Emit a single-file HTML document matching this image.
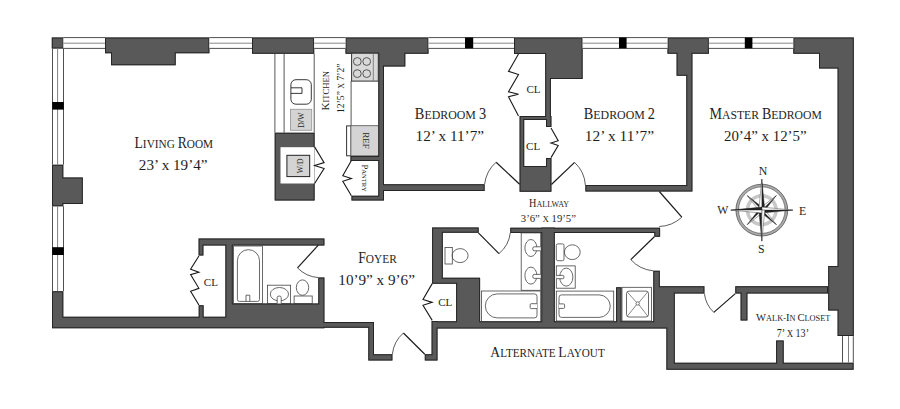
<!DOCTYPE html>
<html><head><meta charset="utf-8"><style>
html,body{margin:0;padding:0;background:#fff;}
body{width:900px;height:409px;overflow:hidden;}
svg{display:block;}
text{font-family:"Liberation Serif",serif;fill:#1e1e1e;}
</style></head><body>
<svg width="900" height="409" viewBox="0 0 900 409">
<rect width="900" height="409" fill="#fff"/>
<clipPath id="wc"><path d="M51.80,37.50 L51.80,48.50 L63.70,48.50 L63.70,37.50ZM252.00,53.70 L314.20,53.70 L314.20,37.50 L252.00,37.50ZM209.40,53.20 L209.40,37.50 L105.00,37.50 L105.00,53.20 L111.00,53.20 L111.00,65.20 L175.70,65.20 L175.70,53.20ZM378.30,156.00 L350.50,156.00 L350.50,160.90 L378.30,160.90 L378.30,195.80 L351.50,195.80 L351.50,200.50 L378.30,200.50 L384.00,200.50 L384.00,195.80 L384.00,191.10 L484.60,191.10 L484.60,184.20 L384.00,184.20 L384.00,66.40 L405.30,66.40 L405.30,53.70 L428.50,53.70 L428.50,37.50 L345.50,37.50 L345.50,53.70 L378.30,53.70 L378.30,66.40ZM274.70,200.50 L314.60,200.50 L314.60,132.70 L274.70,132.70ZM63.30,177.50 L63.30,164.70 L52.00,164.70 L52.00,206.30 L63.30,206.30 L63.30,203.90 L82.80,203.90 L82.80,177.50ZM198.60,255.60 L203.40,255.60 L203.40,245.50 L225.40,245.50 L225.40,303.60 L225.40,316.70 L203.60,316.70 L203.60,305.30 L198.70,305.30 L198.70,316.70 L63.30,316.70 L63.30,291.20 L52.00,291.20 L52.00,316.70 L52.00,328.20 L63.30,328.20 L225.40,328.20 L232.80,328.20 L318.30,328.20 L324.40,328.20 L324.40,327.70 L368.30,327.70 L368.30,354.30 L368.30,360.60 L374.00,360.60 L392.40,360.60 L392.40,354.30 L374.00,354.30 L374.00,327.70 L374.00,321.90 L368.30,321.90 L324.40,321.90 L324.40,303.60 L324.40,277.60 L318.30,277.60 L318.30,303.60 L232.80,303.60 L232.80,245.50 L324.40,245.50 L324.40,238.60 L203.40,238.60 L198.60,238.60 L198.60,245.50ZM514.00,53.90 L545.20,53.90 L545.20,79.10 L545.20,115.90 L519.60,115.90 L519.60,120.10 L519.60,166.00 L519.60,191.70 L551.40,191.70 L551.40,166.00 L551.40,158.00 L546.00,158.00 L546.00,166.00 L524.20,166.00 L524.20,120.10 L546.00,120.10 L546.00,126.90 L551.40,126.90 L551.40,120.10 L551.40,115.90 L550.90,115.90 L550.90,79.10 L582.60,79.10 L582.60,53.90 L582.60,37.50 L514.00,37.50ZM432.10,227.40 L432.10,232.80 L432.10,277.80 L432.10,283.80 L442.80,283.80 L456.10,283.80 L456.10,321.20 L437.50,321.20 L437.50,321.00 L431.60,321.00 L431.60,321.20 L431.60,328.50 L431.60,354.30 L424.80,354.30 L424.80,360.60 L431.60,360.60 L437.50,360.60 L437.50,354.30 L437.50,328.50 L456.10,328.50 L480.10,328.50 L541.30,328.50 L554.80,328.50 L653.30,328.50 L659.80,328.50 L666.40,328.50 L666.40,362.70 L666.40,369.70 L674.80,369.70 L853.60,369.70 L853.60,362.70 L783.70,362.70 L783.70,340.60 L776.10,340.60 L776.10,362.70 L674.80,362.70 L674.80,328.50 L674.80,321.20 L674.80,293.60 L704.40,293.60 L704.40,286.30 L674.80,286.30 L666.40,286.30 L659.80,286.30 L659.80,270.80 L653.30,270.80 L653.30,286.30 L653.30,293.60 L653.30,321.20 L621.50,321.20 L621.50,287.20 L616.10,287.20 L616.10,321.20 L554.80,321.20 L554.80,233.00 L654.30,233.00 L654.30,236.70 L660.10,236.70 L660.10,233.00 L660.10,227.90 L660.10,227.70 L554.80,227.70 L554.80,227.50 L541.30,227.50 L541.30,227.70 L510.30,227.70 L510.30,233.00 L541.30,233.00 L541.30,321.20 L480.10,321.20 L480.10,283.80 L480.10,277.80 L456.10,277.80 L442.80,277.80 L442.80,232.80 L478.70,232.80 L478.70,227.40 L442.80,227.40ZM837.60,266.00 L828.20,266.00 L828.20,310.50 L837.60,310.50 L837.60,336.10 L853.80,336.10 L853.80,310.50 L853.80,266.00 L853.80,68.60 L853.80,53.70 L853.80,37.50 L793.30,37.50 L793.30,53.70 L819.00,53.70 L819.00,68.60 L837.60,68.60ZM686.30,184.90 L585.40,184.90 L585.40,191.60 L686.30,191.60 L692.40,191.60 L692.40,184.90 L692.40,75.80 L692.40,53.70 L708.90,53.70 L708.90,37.50 L667.50,37.50 L667.50,53.70 L676.60,53.70 L676.60,75.80 L686.30,75.80ZM747.40,293.60 L828.00,293.60 L828.00,286.30 L735.30,286.30 L735.30,293.60 L740.60,293.60 L740.60,320.50 L747.40,320.50Z" fill-rule="evenodd"/></clipPath>
<path d="M51.80,37.50 L51.80,48.50 L63.70,48.50 L63.70,37.50ZM252.00,53.70 L314.20,53.70 L314.20,37.50 L252.00,37.50ZM209.40,53.20 L209.40,37.50 L105.00,37.50 L105.00,53.20 L111.00,53.20 L111.00,65.20 L175.70,65.20 L175.70,53.20ZM378.30,156.00 L350.50,156.00 L350.50,160.90 L378.30,160.90 L378.30,195.80 L351.50,195.80 L351.50,200.50 L378.30,200.50 L384.00,200.50 L384.00,195.80 L384.00,191.10 L484.60,191.10 L484.60,184.20 L384.00,184.20 L384.00,66.40 L405.30,66.40 L405.30,53.70 L428.50,53.70 L428.50,37.50 L345.50,37.50 L345.50,53.70 L378.30,53.70 L378.30,66.40ZM274.70,200.50 L314.60,200.50 L314.60,132.70 L274.70,132.70ZM63.30,177.50 L63.30,164.70 L52.00,164.70 L52.00,206.30 L63.30,206.30 L63.30,203.90 L82.80,203.90 L82.80,177.50ZM198.60,255.60 L203.40,255.60 L203.40,245.50 L225.40,245.50 L225.40,303.60 L225.40,316.70 L203.60,316.70 L203.60,305.30 L198.70,305.30 L198.70,316.70 L63.30,316.70 L63.30,291.20 L52.00,291.20 L52.00,316.70 L52.00,328.20 L63.30,328.20 L225.40,328.20 L232.80,328.20 L318.30,328.20 L324.40,328.20 L324.40,327.70 L368.30,327.70 L368.30,354.30 L368.30,360.60 L374.00,360.60 L392.40,360.60 L392.40,354.30 L374.00,354.30 L374.00,327.70 L374.00,321.90 L368.30,321.90 L324.40,321.90 L324.40,303.60 L324.40,277.60 L318.30,277.60 L318.30,303.60 L232.80,303.60 L232.80,245.50 L324.40,245.50 L324.40,238.60 L203.40,238.60 L198.60,238.60 L198.60,245.50ZM514.00,53.90 L545.20,53.90 L545.20,79.10 L545.20,115.90 L519.60,115.90 L519.60,120.10 L519.60,166.00 L519.60,191.70 L551.40,191.70 L551.40,166.00 L551.40,158.00 L546.00,158.00 L546.00,166.00 L524.20,166.00 L524.20,120.10 L546.00,120.10 L546.00,126.90 L551.40,126.90 L551.40,120.10 L551.40,115.90 L550.90,115.90 L550.90,79.10 L582.60,79.10 L582.60,53.90 L582.60,37.50 L514.00,37.50ZM432.10,227.40 L432.10,232.80 L432.10,277.80 L432.10,283.80 L442.80,283.80 L456.10,283.80 L456.10,321.20 L437.50,321.20 L437.50,321.00 L431.60,321.00 L431.60,321.20 L431.60,328.50 L431.60,354.30 L424.80,354.30 L424.80,360.60 L431.60,360.60 L437.50,360.60 L437.50,354.30 L437.50,328.50 L456.10,328.50 L480.10,328.50 L541.30,328.50 L554.80,328.50 L653.30,328.50 L659.80,328.50 L666.40,328.50 L666.40,362.70 L666.40,369.70 L674.80,369.70 L853.60,369.70 L853.60,362.70 L783.70,362.70 L783.70,340.60 L776.10,340.60 L776.10,362.70 L674.80,362.70 L674.80,328.50 L674.80,321.20 L674.80,293.60 L704.40,293.60 L704.40,286.30 L674.80,286.30 L666.40,286.30 L659.80,286.30 L659.80,270.80 L653.30,270.80 L653.30,286.30 L653.30,293.60 L653.30,321.20 L621.50,321.20 L621.50,287.20 L616.10,287.20 L616.10,321.20 L554.80,321.20 L554.80,233.00 L654.30,233.00 L654.30,236.70 L660.10,236.70 L660.10,233.00 L660.10,227.90 L660.10,227.70 L554.80,227.70 L554.80,227.50 L541.30,227.50 L541.30,227.70 L510.30,227.70 L510.30,233.00 L541.30,233.00 L541.30,321.20 L480.10,321.20 L480.10,283.80 L480.10,277.80 L456.10,277.80 L442.80,277.80 L442.80,232.80 L478.70,232.80 L478.70,227.40 L442.80,227.40ZM837.60,266.00 L828.20,266.00 L828.20,310.50 L837.60,310.50 L837.60,336.10 L853.80,336.10 L853.80,310.50 L853.80,266.00 L853.80,68.60 L853.80,53.70 L853.80,37.50 L793.30,37.50 L793.30,53.70 L819.00,53.70 L819.00,68.60 L837.60,68.60ZM686.30,184.90 L585.40,184.90 L585.40,191.60 L686.30,191.60 L692.40,191.60 L692.40,184.90 L692.40,75.80 L692.40,53.70 L708.90,53.70 L708.90,37.50 L667.50,37.50 L667.50,53.70 L676.60,53.70 L676.60,75.80 L686.30,75.80ZM747.40,293.60 L828.00,293.60 L828.00,286.30 L735.30,286.30 L735.30,293.60 L740.60,293.60 L740.60,320.50 L747.40,320.50Z" fill="#595959" fill-rule="evenodd"/>
<path d="M51.80,37.50 L51.80,48.50 L63.70,48.50 L63.70,37.50ZM252.00,53.70 L314.20,53.70 L314.20,37.50 L252.00,37.50ZM209.40,53.20 L209.40,37.50 L105.00,37.50 L105.00,53.20 L111.00,53.20 L111.00,65.20 L175.70,65.20 L175.70,53.20ZM378.30,156.00 L350.50,156.00 L350.50,160.90 L378.30,160.90 L378.30,195.80 L351.50,195.80 L351.50,200.50 L378.30,200.50 L384.00,200.50 L384.00,195.80 L384.00,191.10 L484.60,191.10 L484.60,184.20 L384.00,184.20 L384.00,66.40 L405.30,66.40 L405.30,53.70 L428.50,53.70 L428.50,37.50 L345.50,37.50 L345.50,53.70 L378.30,53.70 L378.30,66.40ZM274.70,200.50 L314.60,200.50 L314.60,132.70 L274.70,132.70ZM63.30,177.50 L63.30,164.70 L52.00,164.70 L52.00,206.30 L63.30,206.30 L63.30,203.90 L82.80,203.90 L82.80,177.50ZM198.60,255.60 L203.40,255.60 L203.40,245.50 L225.40,245.50 L225.40,303.60 L225.40,316.70 L203.60,316.70 L203.60,305.30 L198.70,305.30 L198.70,316.70 L63.30,316.70 L63.30,291.20 L52.00,291.20 L52.00,316.70 L52.00,328.20 L63.30,328.20 L225.40,328.20 L232.80,328.20 L318.30,328.20 L324.40,328.20 L324.40,327.70 L368.30,327.70 L368.30,354.30 L368.30,360.60 L374.00,360.60 L392.40,360.60 L392.40,354.30 L374.00,354.30 L374.00,327.70 L374.00,321.90 L368.30,321.90 L324.40,321.90 L324.40,303.60 L324.40,277.60 L318.30,277.60 L318.30,303.60 L232.80,303.60 L232.80,245.50 L324.40,245.50 L324.40,238.60 L203.40,238.60 L198.60,238.60 L198.60,245.50ZM514.00,53.90 L545.20,53.90 L545.20,79.10 L545.20,115.90 L519.60,115.90 L519.60,120.10 L519.60,166.00 L519.60,191.70 L551.40,191.70 L551.40,166.00 L551.40,158.00 L546.00,158.00 L546.00,166.00 L524.20,166.00 L524.20,120.10 L546.00,120.10 L546.00,126.90 L551.40,126.90 L551.40,120.10 L551.40,115.90 L550.90,115.90 L550.90,79.10 L582.60,79.10 L582.60,53.90 L582.60,37.50 L514.00,37.50ZM432.10,227.40 L432.10,232.80 L432.10,277.80 L432.10,283.80 L442.80,283.80 L456.10,283.80 L456.10,321.20 L437.50,321.20 L437.50,321.00 L431.60,321.00 L431.60,321.20 L431.60,328.50 L431.60,354.30 L424.80,354.30 L424.80,360.60 L431.60,360.60 L437.50,360.60 L437.50,354.30 L437.50,328.50 L456.10,328.50 L480.10,328.50 L541.30,328.50 L554.80,328.50 L653.30,328.50 L659.80,328.50 L666.40,328.50 L666.40,362.70 L666.40,369.70 L674.80,369.70 L853.60,369.70 L853.60,362.70 L783.70,362.70 L783.70,340.60 L776.10,340.60 L776.10,362.70 L674.80,362.70 L674.80,328.50 L674.80,321.20 L674.80,293.60 L704.40,293.60 L704.40,286.30 L674.80,286.30 L666.40,286.30 L659.80,286.30 L659.80,270.80 L653.30,270.80 L653.30,286.30 L653.30,293.60 L653.30,321.20 L621.50,321.20 L621.50,287.20 L616.10,287.20 L616.10,321.20 L554.80,321.20 L554.80,233.00 L654.30,233.00 L654.30,236.70 L660.10,236.70 L660.10,233.00 L660.10,227.90 L660.10,227.70 L554.80,227.70 L554.80,227.50 L541.30,227.50 L541.30,227.70 L510.30,227.70 L510.30,233.00 L541.30,233.00 L541.30,321.20 L480.10,321.20 L480.10,283.80 L480.10,277.80 L456.10,277.80 L442.80,277.80 L442.80,232.80 L478.70,232.80 L478.70,227.40 L442.80,227.40ZM837.60,266.00 L828.20,266.00 L828.20,310.50 L837.60,310.50 L837.60,336.10 L853.80,336.10 L853.80,310.50 L853.80,266.00 L853.80,68.60 L853.80,53.70 L853.80,37.50 L793.30,37.50 L793.30,53.70 L819.00,53.70 L819.00,68.60 L837.60,68.60ZM686.30,184.90 L585.40,184.90 L585.40,191.60 L686.30,191.60 L692.40,191.60 L692.40,184.90 L692.40,75.80 L692.40,53.70 L708.90,53.70 L708.90,37.50 L667.50,37.50 L667.50,53.70 L676.60,53.70 L676.60,75.80 L686.30,75.80ZM747.40,293.60 L828.00,293.60 L828.00,286.30 L735.30,286.30 L735.30,293.60 L740.60,293.60 L740.60,320.50 L747.40,320.50Z" fill="none" stroke="#262626" stroke-width="2.0" clip-path="url(#wc)"/>
<rect x="63.30" y="37.50" width="41.70" height="10.80" fill="#ffffff"/>
<line x1="63.30" y1="37.60" x2="105.00" y2="37.60" stroke="#505050" stroke-width="1.0"/>
<line x1="63.30" y1="43.20" x2="105.00" y2="43.20" stroke="#7a7a7a" stroke-width="0.9"/>
<line x1="63.30" y1="48.40" x2="105.00" y2="48.40" stroke="#505050" stroke-width="1.0"/>
<rect x="209.40" y="37.50" width="42.60" height="10.80" fill="#ffffff"/>
<line x1="209.40" y1="37.60" x2="252.00" y2="37.60" stroke="#505050" stroke-width="1.0"/>
<line x1="209.40" y1="43.20" x2="252.00" y2="43.20" stroke="#7a7a7a" stroke-width="0.9"/>
<line x1="209.40" y1="48.40" x2="252.00" y2="48.40" stroke="#505050" stroke-width="1.0"/>
<rect x="314.20" y="37.50" width="31.30" height="10.80" fill="#ffffff"/>
<line x1="314.20" y1="37.60" x2="345.50" y2="37.60" stroke="#505050" stroke-width="1.0"/>
<line x1="314.20" y1="43.20" x2="345.50" y2="43.20" stroke="#7a7a7a" stroke-width="0.9"/>
<line x1="314.20" y1="48.40" x2="345.50" y2="48.40" stroke="#505050" stroke-width="1.0"/>
<rect x="428.50" y="37.50" width="85.50" height="10.80" fill="#ffffff"/>
<line x1="428.50" y1="37.60" x2="514.00" y2="37.60" stroke="#505050" stroke-width="1.0"/>
<line x1="428.50" y1="43.20" x2="514.00" y2="43.20" stroke="#7a7a7a" stroke-width="0.9"/>
<line x1="428.50" y1="48.40" x2="514.00" y2="48.40" stroke="#505050" stroke-width="1.0"/>
<rect x="465.00" y="37.50" width="8.20" height="10.80" fill="#000"/>
<rect x="582.60" y="37.50" width="84.90" height="10.80" fill="#ffffff"/>
<line x1="582.60" y1="37.60" x2="667.50" y2="37.60" stroke="#505050" stroke-width="1.0"/>
<line x1="582.60" y1="43.20" x2="667.50" y2="43.20" stroke="#7a7a7a" stroke-width="0.9"/>
<line x1="582.60" y1="48.40" x2="667.50" y2="48.40" stroke="#505050" stroke-width="1.0"/>
<rect x="619.00" y="37.50" width="7.60" height="10.80" fill="#000"/>
<rect x="708.90" y="37.50" width="84.40" height="10.80" fill="#ffffff"/>
<line x1="708.90" y1="37.60" x2="793.30" y2="37.60" stroke="#505050" stroke-width="1.0"/>
<line x1="708.90" y1="43.20" x2="793.30" y2="43.20" stroke="#7a7a7a" stroke-width="0.9"/>
<line x1="708.90" y1="48.40" x2="793.30" y2="48.40" stroke="#505050" stroke-width="1.0"/>
<rect x="744.80" y="37.50" width="7.60" height="10.80" fill="#000"/>
<line x1="52.50" y1="48.30" x2="52.50" y2="164.70" stroke="#505050" stroke-width="1.0"/>
<line x1="57.60" y1="48.30" x2="57.60" y2="164.70" stroke="#808080" stroke-width="1.0"/>
<line x1="63.50" y1="48.30" x2="63.50" y2="164.70" stroke="#505050" stroke-width="1.0"/>
<rect x="52.20" y="102.00" width="11.60" height="7.60" fill="#000"/>
<line x1="52.50" y1="206.30" x2="52.50" y2="291.20" stroke="#505050" stroke-width="1.0"/>
<line x1="57.60" y1="206.30" x2="57.60" y2="291.20" stroke="#808080" stroke-width="1.0"/>
<line x1="63.50" y1="206.30" x2="63.50" y2="291.20" stroke="#505050" stroke-width="1.0"/>
<rect x="52.20" y="247.20" width="11.60" height="7.80" fill="#000"/>
<line x1="842.50" y1="336.10" x2="842.50" y2="362.70" stroke="#505050" stroke-width="1.0"/>
<line x1="848.50" y1="336.10" x2="848.50" y2="362.70" stroke="#808080" stroke-width="1.0"/>
<line x1="853.30" y1="336.10" x2="853.30" y2="362.70" stroke="#505050" stroke-width="1.0"/>
<line x1="274.90" y1="53.70" x2="274.90" y2="132.70" stroke="#444" stroke-width="0.9"/>
<line x1="284.10" y1="53.70" x2="284.10" y2="132.70" stroke="#444" stroke-width="0.9"/>
<line x1="314.20" y1="53.70" x2="314.20" y2="132.70" stroke="#444" stroke-width="0.9"/>
<rect x="290.9" y="79.7" width="20.4" height="24.5" rx="5" fill="none" stroke="#222" stroke-width="0.9"/>
<path d="M290.9,87.8 H302 V93.4 H290.9" fill="none" stroke="#222" stroke-width="0.9"/>
<rect x="290.50" y="109.30" width="21.20" height="21.00" fill="#d4d4d4" stroke="#9a9a9a" stroke-width="0.9"/>
<rect x="280.50" y="147.20" width="34.10" height="36.30" fill="#fff"/>
<rect x="286.90" y="155.30" width="22.80" height="21.30" fill="#d4d4d4" stroke="#222" stroke-width="1"/>
<rect x="351.60" y="53.20" width="26.70" height="27.90" fill="#d9d9d9" stroke="#333" stroke-width="1"/>
<line x1="373.30" y1="53.70" x2="373.30" y2="80.90" stroke="#777" stroke-width="0.9"/>
<circle cx="357.3" cy="61.5" r="3.9" fill="none" stroke="#555" stroke-width="1"/>
<circle cx="357.3" cy="73.6" r="3.9" fill="none" stroke="#555" stroke-width="1"/>
<circle cx="366.7" cy="61.5" r="3.9" fill="none" stroke="#555" stroke-width="1"/>
<circle cx="366.7" cy="73.6" r="3.9" fill="none" stroke="#555" stroke-width="1"/>
<line x1="351.10" y1="80.90" x2="351.10" y2="125.70" stroke="#444" stroke-width="0.9"/>
<rect x="346.60" y="125.90" width="31.70" height="29.90" fill="#fff" stroke="#333" stroke-width="1"/>
<rect x="350.80" y="126.40" width="27.00" height="28.90" fill="#d4d4d4"/>
<line x1="350.80" y1="125.90" x2="350.80" y2="155.80" stroke="#444" stroke-width="0.9"/>
<rect x="233.60" y="246.00" width="28.80" height="57.60" fill="none" stroke="#444" stroke-width="0.8"/>
<path d="M237.4,299.4 V260.7 A11.05,11.05 0 0 1 259.5,260.7 V299.4 Q259.5,301.4 257.5,301.4 H239.4 Q237.4,301.4 237.4,299.4 Z" fill="none" stroke="#444" stroke-width="0.8"/>
<path d="M246,301.4 V295.2 H249.8 V301.4" fill="none" stroke="#444" stroke-width="0.8"/>
<rect x="267.50" y="285.20" width="23.10" height="18.40" fill="none" stroke="#444" stroke-width="0.8"/>
<ellipse cx="279.4" cy="294.2" rx="9.1" ry="6.7" fill="none" stroke="#444" stroke-width="0.8"/>
<path d="M277.2,303.6 V297.5 Q277.2,296 279.2,296 Q281.2,296 281.2,297.5 V303.6" fill="#fff" stroke="#444" stroke-width="0.8"/>
<rect x="294.10" y="296.00" width="18.10" height="7.60" fill="none" stroke="#444" stroke-width="0.8"/>
<ellipse cx="302.5" cy="287.6" rx="6.2" ry="7.7" fill="#fff" stroke="#444" stroke-width="0.8"/>
<rect x="445.00" y="247.40" width="7.30" height="16.60" fill="#fff" stroke="#444" stroke-width="0.8"/>
<ellipse cx="460.1" cy="255.6" rx="8" ry="7" fill="none" stroke="#444" stroke-width="0.8"/>
<rect x="521.20" y="232.90" width="19.50" height="57.40" fill="none" stroke="#444" stroke-width="0.8"/>
<ellipse cx="530.9" cy="248" rx="6" ry="8.5" fill="none" stroke="#444" stroke-width="0.8"/>
<path d="M540.7,246.8 H534.2 Q532.7,246.8 532.7,248.8 Q532.7,250.8 534.2,250.8 H540.7" fill="#fff" stroke="#444" stroke-width="0.8"/>
<ellipse cx="530.9" cy="275.6" rx="6" ry="8.5" fill="none" stroke="#444" stroke-width="0.8"/>
<path d="M540.7,274.40000000000003 H534.2 Q532.7,274.40000000000003 532.7,276.40000000000003 Q532.7,278.40000000000003 534.2,278.40000000000003 H540.7" fill="#fff" stroke="#444" stroke-width="0.8"/>
<rect x="481.40" y="291.00" width="59.30" height="31.00" fill="none" stroke="#444" stroke-width="0.8"/>
<path d="M534.5,293.9 H497.3 A12,12 0 0 0 497.3,317.9 H534.5 Q537,317.9 537,315.4 V296.4 Q537,293.9 534.5,293.9 Z" fill="none" stroke="#444" stroke-width="0.8"/>
<path d="M537,303.7 H531.2 Q530.2,303.7 530.2,304.7 V307.6 Q530.2,308.6 531.2,308.6 H537" fill="#fff" stroke="#444" stroke-width="0.8"/>
<rect x="556.3" y="243.9" width="7.7" height="16.8" rx="1.5" fill="#fff" stroke="#444" stroke-width="0.8"/>
<ellipse cx="572.3" cy="252.2" rx="7.9" ry="7.4" fill="none" stroke="#444" stroke-width="0.8"/>
<rect x="556.30" y="265.90" width="18.90" height="22.30" fill="none" stroke="#444" stroke-width="0.8"/>
<ellipse cx="566.3" cy="277.1" rx="6.6" ry="9" fill="none" stroke="#444" stroke-width="0.8"/>
<path d="M556.3,275.4 H562.8 Q564,275.4 564,277 Q564,278.7 562.8,278.7 H556.3" fill="#fff" stroke="#444" stroke-width="0.8"/>
<rect x="556.30" y="291.10" width="57.40" height="29.90" fill="none" stroke="#444" stroke-width="0.8"/>
<path d="M561.5,294.9 H599 A11.25,11.25 0 0 1 599,317.4 H561.5 Q559,317.4 559,314.9 V297.4 Q559,294.9 561.5,294.9 Z" fill="none" stroke="#444" stroke-width="0.8"/>
<path d="M559,303.9 H563.6 Q564.6,303.9 564.6,304.9 V307.4 Q564.6,308.4 563.6,308.4 H559" fill="#fff" stroke="#444" stroke-width="0.8"/>
<rect x="622.00" y="287.30" width="29.60" height="33.70" fill="none" stroke="#444" stroke-width="0.8"/>
<rect x="626.5" y="291.1" width="22" height="25.9" rx="2.5" fill="none" stroke="#444" stroke-width="0.8"/>
<line x1="627.40" y1="292.10" x2="636.40" y2="302.30" stroke="#555" stroke-width="0.7"/>
<line x1="647.60" y1="292.10" x2="639.00" y2="302.30" stroke="#555" stroke-width="0.7"/>
<line x1="627.40" y1="316.00" x2="636.40" y2="304.80" stroke="#555" stroke-width="0.7"/>
<line x1="647.60" y1="316.00" x2="639.00" y2="304.80" stroke="#555" stroke-width="0.7"/>
<circle cx="637.7" cy="303.5" r="1.7" fill="none" stroke="#444" stroke-width="0.7"/>
<line x1="519.60" y1="184.20" x2="496.10" y2="162.20" stroke="#1a1a1a" stroke-width="1.2"/>
<path d="M496.10,162.20 A35.00,35.00 0 0 0 484.60,184.20" fill="none" stroke="#333" stroke-width="0.8"/>
<line x1="551.40" y1="184.50" x2="574.60" y2="162.40" stroke="#1a1a1a" stroke-width="1.2"/>
<path d="M574.60,162.40 A34.01,34.01 0 0 1 585.40,185.30" fill="none" stroke="#333" stroke-width="0.8"/>
<line x1="659.30" y1="191.50" x2="681.80" y2="217.20" stroke="#1a1a1a" stroke-width="1.2"/>
<path d="M681.80,217.20 A35.00,35.00 0 0 1 659.30,226.50" fill="none" stroke="#333" stroke-width="0.8"/>
<line x1="654.30" y1="236.70" x2="630.80" y2="259.60" stroke="#1a1a1a" stroke-width="1.2"/>
<path d="M630.80,259.60 A34.11,34.11 0 0 0 653.30,270.80" fill="none" stroke="#333" stroke-width="0.8"/>
<line x1="478.40" y1="232.80" x2="499.00" y2="253.60" stroke="#1a1a1a" stroke-width="1.2"/>
<path d="M499.00,253.60 A31.90,31.90 0 0 0 510.30,232.80" fill="none" stroke="#333" stroke-width="0.8"/>
<line x1="735.30" y1="293.60" x2="713.80" y2="312.40" stroke="#1a1a1a" stroke-width="1.2"/>
<path d="M713.80,312.40 A30.90,30.90 0 0 1 704.40,293.60" fill="none" stroke="#333" stroke-width="0.8"/>
<line x1="424.80" y1="354.30" x2="403.40" y2="333.00" stroke="#1a1a1a" stroke-width="1.2"/>
<path d="M403.40,333.00 A32.40,32.40 0 0 0 392.40,354.30" fill="none" stroke="#333" stroke-width="0.8"/>
<line x1="318.30" y1="245.10" x2="297.50" y2="267.90" stroke="#1a1a1a" stroke-width="1.2"/>
<path d="M297.50,267.90 A32.50,32.50 0 0 0 318.30,277.60" fill="none" stroke="#333" stroke-width="0.8"/>
<polyline points="198.90,256.00 190.60,269.23 198.90,272.17 190.60,274.62 198.90,288.34 190.60,291.28 198.90,305.00" fill="none" stroke="#1a1a1a" stroke-width="1.1" stroke-linejoin="miter"/>
<polyline points="518.50,54.00 508.50,71.36 518.50,74.46 508.50,91.82 518.50,94.30 508.50,96.78 518.50,116.00" fill="none" stroke="#1a1a1a" stroke-width="1.1" stroke-linejoin="miter"/>
<polyline points="551.00,128.00 558.20,140.73 551.00,143.10 558.20,145.46 551.00,157.60" fill="none" stroke="#1a1a1a" stroke-width="1.1" stroke-linejoin="miter"/>
<polyline points="314.60,146.90 324.10,162.64 314.60,165.57 324.10,168.49 314.60,183.50" fill="none" stroke="#1a1a1a" stroke-width="1.1" stroke-linejoin="miter"/>
<polyline points="351.40,160.60 342.80,175.69 351.40,178.50 342.80,181.31 351.40,195.70" fill="none" stroke="#1a1a1a" stroke-width="1.1" stroke-linejoin="miter"/>
<polyline points="432.20,283.60 423.00,299.42 432.20,302.37 423.00,305.31 432.20,320.40" fill="none" stroke="#1a1a1a" stroke-width="1.1" stroke-linejoin="miter"/>
<circle cx="761.8" cy="210.1" r="24.6" fill="none" stroke="#ababab" stroke-width="2.6"/><circle cx="761.8" cy="210.1" r="25.9" fill="none" stroke="#444" stroke-width="0.7"/><circle cx="761.8" cy="210.1" r="23.3" fill="none" stroke="#555" stroke-width="0.7"/><circle cx="761.8" cy="210.1" r="14.3" fill="none" stroke="#c8c8c8" stroke-width="3.6"/><polygon points="761.80,210.10 776.30,195.60 763.64,211.94" fill="#222" stroke="#222" stroke-width="0.4"/><polygon points="761.80,210.10 776.30,195.60 759.96,208.26" fill="#fff" stroke="#222" stroke-width="0.4"/><polygon points="761.80,210.10 776.30,224.60 759.96,211.94" fill="#222" stroke="#222" stroke-width="0.4"/><polygon points="761.80,210.10 776.30,224.60 763.64,208.26" fill="#fff" stroke="#222" stroke-width="0.4"/><polygon points="761.80,210.10 747.30,224.60 759.96,208.26" fill="#222" stroke="#222" stroke-width="0.4"/><polygon points="761.80,210.10 747.30,224.60 763.64,211.94" fill="#fff" stroke="#222" stroke-width="0.4"/><polygon points="761.80,210.10 747.30,195.60 763.64,208.26" fill="#222" stroke="#222" stroke-width="0.4"/><polygon points="761.80,210.10 747.30,195.60 759.96,211.94" fill="#fff" stroke="#222" stroke-width="0.4"/><polygon points="761.80,210.10 761.80,179.10 764.80,210.10" fill="#222" stroke="#222" stroke-width="0.4"/><polygon points="761.80,210.10 761.80,179.10 758.80,210.10" fill="#fff" stroke="#222" stroke-width="0.4"/><polygon points="761.80,210.10 792.80,210.10 761.80,213.10" fill="#222" stroke="#222" stroke-width="0.4"/><polygon points="761.80,210.10 792.80,210.10 761.80,207.10" fill="#fff" stroke="#222" stroke-width="0.4"/><polygon points="761.80,210.10 761.80,241.10 758.80,210.10" fill="#222" stroke="#222" stroke-width="0.4"/><polygon points="761.80,210.10 761.80,241.10 764.80,210.10" fill="#fff" stroke="#222" stroke-width="0.4"/><polygon points="761.80,210.10 730.80,210.10 761.80,207.10" fill="#222" stroke="#222" stroke-width="0.4"/><polygon points="761.80,210.10 730.80,210.10 761.80,213.10" fill="#fff" stroke="#222" stroke-width="0.4"/>
<text x="173.81" y="147.6" text-anchor="middle" textLength="78.50" lengthAdjust="spacingAndGlyphs"><tspan font-size="16.00">L</tspan><tspan font-size="13.28">I</tspan><tspan font-size="13.28">V</tspan><tspan font-size="13.28">I</tspan><tspan font-size="13.28">N</tspan><tspan font-size="13.28">G</tspan><tspan font-size="13.28"> </tspan><tspan font-size="16.00">R</tspan><tspan font-size="13.28">O</tspan><tspan font-size="13.28">O</tspan><tspan font-size="13.28">M</tspan></text>
<text x="173.16" y="170.1" text-anchor="middle" font-size="15" textLength="68.68" lengthAdjust="spacingAndGlyphs">23’ x 19’4”</text>
<text x="450.44" y="118.8" text-anchor="middle" textLength="71.24" lengthAdjust="spacingAndGlyphs"><tspan font-size="16.00">B</tspan><tspan font-size="13.28">E</tspan><tspan font-size="13.28">D</tspan><tspan font-size="13.28">R</tspan><tspan font-size="13.28">O</tspan><tspan font-size="13.28">O</tspan><tspan font-size="13.28">M</tspan><tspan font-size="13.28"> </tspan><tspan font-size="16.00">3</tspan></text>
<text x="449.79" y="140.9" text-anchor="middle" font-size="15" textLength="68.54" lengthAdjust="spacingAndGlyphs">12’ x 11’7”</text>
<text x="619.35" y="118.6" text-anchor="middle" textLength="71.18" lengthAdjust="spacingAndGlyphs"><tspan font-size="16.00">B</tspan><tspan font-size="13.28">E</tspan><tspan font-size="13.28">D</tspan><tspan font-size="13.28">R</tspan><tspan font-size="13.28">O</tspan><tspan font-size="13.28">O</tspan><tspan font-size="13.28">M</tspan><tspan font-size="13.28"> </tspan><tspan font-size="16.00">2</tspan></text>
<text x="619.45" y="140.8" text-anchor="middle" font-size="15" textLength="69.22" lengthAdjust="spacingAndGlyphs">12’ x 11’7”</text>
<text x="765.65" y="118.6" text-anchor="middle" textLength="112.30" lengthAdjust="spacingAndGlyphs"><tspan font-size="16.00">M</tspan><tspan font-size="13.28">A</tspan><tspan font-size="13.28">S</tspan><tspan font-size="13.28">T</tspan><tspan font-size="13.28">E</tspan><tspan font-size="13.28">R</tspan><tspan font-size="13.28"> </tspan><tspan font-size="16.00">B</tspan><tspan font-size="13.28">E</tspan><tspan font-size="13.28">D</tspan><tspan font-size="13.28">R</tspan><tspan font-size="13.28">O</tspan><tspan font-size="13.28">O</tspan><tspan font-size="13.28">M</tspan></text>
<text x="765.28" y="140.8" text-anchor="middle" font-size="15" textLength="82.68" lengthAdjust="spacingAndGlyphs">20’4” x 12’5”</text>
<text x="549.06" y="206.7" text-anchor="middle" textLength="40.12" lengthAdjust="spacingAndGlyphs"><tspan font-size="11.70">H</tspan><tspan font-size="9.24">A</tspan><tspan font-size="9.24">L</tspan><tspan font-size="9.24">L</tspan><tspan font-size="9.24">W</tspan><tspan font-size="9.24">A</tspan><tspan font-size="9.24">Y</tspan></text>
<text x="548.38" y="221.5" text-anchor="middle" font-size="10.8" textLength="55.12" lengthAdjust="spacingAndGlyphs">3’6” <tspan font-size="9">X</tspan> 19’5”</text>
<text x="377.50" y="262.75" text-anchor="middle" textLength="38.50" lengthAdjust="spacingAndGlyphs"><tspan font-size="16.00">F</tspan><tspan font-size="13.28">O</tspan><tspan font-size="13.28">Y</tspan><tspan font-size="13.28">E</tspan><tspan font-size="13.28">R</tspan></text>
<text x="376.64" y="285.1" text-anchor="middle" font-size="15" textLength="76.60" lengthAdjust="spacingAndGlyphs">10’9” x 9’6”</text>
<text x="547.54" y="356.7" text-anchor="middle" textLength="114.44" lengthAdjust="spacingAndGlyphs"><tspan font-size="15.00">A</tspan><tspan font-size="12.30">L</tspan><tspan font-size="12.30">T</tspan><tspan font-size="12.30">E</tspan><tspan font-size="12.30">R</tspan><tspan font-size="12.30">N</tspan><tspan font-size="12.30">A</tspan><tspan font-size="12.30">T</tspan><tspan font-size="12.30">E</tspan><tspan font-size="12.30"> </tspan><tspan font-size="15.00">L</tspan><tspan font-size="12.30">A</tspan><tspan font-size="12.30">Y</tspan><tspan font-size="12.30">O</tspan><tspan font-size="12.30">U</tspan><tspan font-size="12.30">T</tspan></text>
<text x="793.24" y="320.9" text-anchor="middle" textLength="74.24" lengthAdjust="spacingAndGlyphs"><tspan font-size="11.30">W</tspan><tspan font-size="8.93">A</tspan><tspan font-size="8.93">L</tspan><tspan font-size="8.93">K</tspan><tspan font-size="8.93">-</tspan><tspan font-size="11.30">I</tspan><tspan font-size="8.93">N</tspan><tspan font-size="8.93"> </tspan><tspan font-size="11.30">C</tspan><tspan font-size="8.93">L</tspan><tspan font-size="8.93">O</tspan><tspan font-size="8.93">S</tspan><tspan font-size="8.93">E</tspan><tspan font-size="8.93">T</tspan></text>
<text x="792.94" y="336.9" text-anchor="middle" font-size="11.5" textLength="32.24" lengthAdjust="spacingAndGlyphs">7’ <tspan font-size="9.5">X</tspan> 13’</text>
<text x="533.5" y="92.8" text-anchor="middle" font-size="11">CL</text>
<text x="533.1" y="150.3" text-anchor="middle" font-size="11">CL</text>
<text x="210.9" y="285.7" text-anchor="middle" font-size="11">CL</text>
<text x="445.2" y="305.9" text-anchor="middle" font-size="11">CL</text>
<text x="328.6" y="90.8" text-anchor="middle" transform="rotate(-90 328.6 90.8)"><tspan font-size="11.00">K</tspan><tspan font-size="8.58">I</tspan><tspan font-size="8.58">T</tspan><tspan font-size="8.58">C</tspan><tspan font-size="8.58">H</tspan><tspan font-size="8.58">E</tspan><tspan font-size="8.58">N</tspan></text>
<text x="344.3" y="88.2" text-anchor="middle" font-size="9.6" transform="rotate(-90 344.3 88.2)">12’5” <tspan font-size="8">X</tspan> 7’2”</text>
<text x="301.3" y="120.2" text-anchor="middle" font-size="8" fill="#333" transform="rotate(-90 301.3 120.2)" dy="2.7">D/W</text>
<text x="300.1" y="165.9" text-anchor="middle" font-size="7.6" fill="#333" transform="rotate(-90 300.1 165.9)" dy="2.6">W/D</text>
<text x="365.7" y="140.5" text-anchor="middle" font-size="9" fill="#333" transform="rotate(90 365.7 140.5)" dy="3">REF</text>
<text x="365.2" y="178.1" text-anchor="middle" transform="rotate(90 365.2 178.1)" dy="3" fill="#333"><tspan font-size="8.50">P</tspan><tspan font-size="6.63">A</tspan><tspan font-size="6.63">N</tspan><tspan font-size="6.63">T</tspan><tspan font-size="6.63">R</tspan><tspan font-size="6.63">Y</tspan></text>
<text x="763.1" y="175.4" text-anchor="middle" font-size="11.8">N</text>
<text x="761.2" y="253.1" text-anchor="middle" font-size="11.8">S</text>
<text x="722.9" y="214.4" text-anchor="middle" font-size="11.8">W</text>
<text x="802.5" y="215.2" text-anchor="middle" font-size="11.8">E</text>
</svg>
</body></html>
